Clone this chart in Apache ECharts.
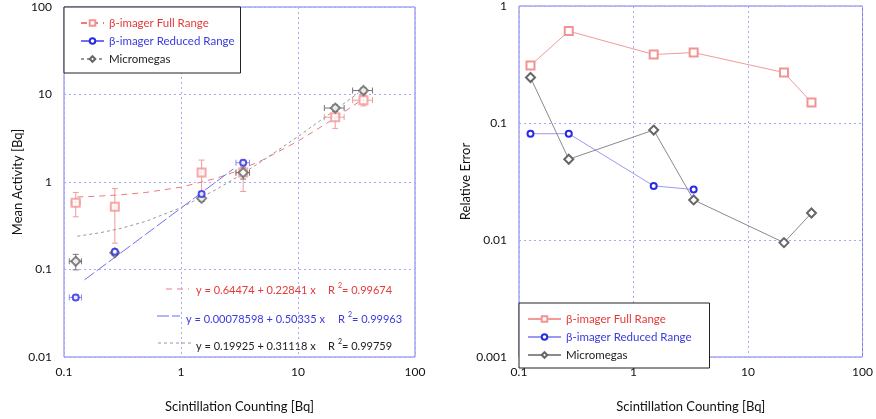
<!DOCTYPE html>
<html>
<head>
<meta charset="utf-8">
<script src="https://cdn.jsdelivr.net/npm/echarts@6/dist/echarts.min.js"></script>
<style>
  html, body { margin: 0; padding: 0; background: #fff; }
  #chart { width: 876px; height: 419px; }
</style>
</head>
<body>
<div id="chart"></div>
<script>
// ---- left plot: mean activity vs scintillation counting ----
const fullX = [0.126, 0.272, 1.5, 3.4, 20.8, 36.3];
const fullY = [0.58, 0.52, 1.28, 1.28, 5.5, 8.6];
const fullXErr = [0.011, 0.01, 0.05, 0.45, 4, 7];
const fullYErr = [0.18, 0.32, 0.5, 0.5, 1.4, 1.2];

const redX = [0.126, 0.272, 1.5, 3.4];
const redY = [0.048, 0.16, 0.73, 1.66];
const redXErr = [0.015, 0.01, 0.05, 0.45];
const redYErr = [0.003, 0.01, 0.04, 0.08];

const microX = [0.126, 0.272, 1.5, 3.4, 20.8, 36.3];
const microY = [0.124, 0.155, 0.65, 1.28, 7.0, 11.1];
const microXErr = [0.015, 0.01, 0.05, 0.45, 4, 7];
const microYErr = [0.025, 0.01, 0.05, 0.2, 0.6, 0.8];

// fitted curves
const fitFullX = [0.13, 0.2, 0.3, 0.5, 1, 2, 3, 5, 10, 20, 35];
const fitFullY = [0.674, 0.690, 0.713, 0.759, 0.873, 1.102, 1.330, 1.787, 2.929, 5.213, 8.639];
const fitRedX = [0.15, 0.2, 0.3, 0.5, 1, 2, 2.8];
const fitRedY = [0.0763, 0.1015, 0.1518, 0.2525, 0.5041, 1.0075, 1.4102];
const fitMicroX = [0.13, 0.2, 0.3, 0.5, 1, 2, 3, 5, 10, 20, 33];
const fitMicroY = [0.240, 0.262, 0.293, 0.355, 0.510, 0.822, 1.133, 1.755, 3.311, 6.423, 10.468];

// ---- right plot: relative error ----
const relX = [0.126, 0.272, 1.5, 3.35, 20.6, 35.8];
const relFull = [0.31, 0.61, 0.385, 0.40, 0.27, 0.15];
const relReduced = [0.081, 0.081, 0.029, 0.027];
const relMicro = [0.245, 0.049, 0.087, 0.022, 0.0095, 0.017];

const names = ['β-imager Full Range', 'β-imager Reduced Range', 'Micromegas'];
const textCol = ['#e43a3a', '#3a3ae0', '#222'];
const FONT = 'Lato';

const C_RED = '#f29494', C_BLUE = '#2a2ae6', C_BLACK = '#666';

function pairs(xs, ys) { return ys.map((v, i) => [xs[i], v]); }
function errData(xs, ys, xe, ye) {
  return ys.map((v, i) => [xs[i], v, xs[i] - xe[i], xs[i] + xe[i], v - ye[i], v + ye[i]]);
}
function errRender(params, api) {
  const x = api.value(0), y = api.value(1);
  const a = api.coord([api.value(2), y]), b = api.coord([api.value(3), y]);
  const c = api.coord([x, api.value(4)]), d = api.coord([x, api.value(5)]);
  const cap = 3;
  const st = { stroke: api.visual('color'), lineWidth: 1 };
  const ln = (x1, y1, x2, y2) => ({ type: 'line', shape: { x1, y1, x2, y2 }, style: st });
  return {
    type: 'group',
    children: [
      ln(a[0], a[1], b[0], b[1]),
      ln(a[0], a[1] - cap, a[0], a[1] + cap),
      ln(b[0], b[1] - cap, b[0], b[1] + cap),
      ln(c[0], c[1], d[0], d[1]),
      ln(c[0] - cap, c[1], c[0] + cap, c[1]),
      ln(d[0] - cap, d[1], d[0] + cap, d[1])
    ]
  };
}

const gridLine = { show: true, lineStyle: { color: '#a8a8f4', type: [2, 3], width: 1 } };
function xAxisCfg(idx) {
  return {
    type: 'log', logBase: 10, min: 0.1, max: 100, gridIndex: idx,
    name: 'Scintillation Counting [Bq]', nameLocation: 'middle', nameGap: 43,
    nameTextStyle: { fontFamily: FONT, fontSize: 13, color: '#111' },
    axisLine: { show: false }, axisTick: { show: false },
    axisLabel: { fontFamily: FONT, fontSize: 12, color: '#111', margin: 9 },
    splitLine: gridLine
  };
}
function yAxisCfg(idx, min, max, name) {
  return {
    type: 'log', logBase: 10, min: min, max: max, gridIndex: idx,
    name: name, nameLocation: 'middle', nameGap: 40,
    nameTextStyle: { fontFamily: FONT, fontSize: 13, color: '#111' },
    axisLine: { show: false }, axisTick: { show: false },
    axisLabel: { fontFamily: FONT, fontSize: 12, color: '#111', margin: 12 },
    splitLine: gridLine
  };
}

const chart = echarts.init(document.getElementById('chart'));

function eqText(x, y, col, eq, rx, r2) {
  return [
    { type: 'text', x: x, y: y, style: { text: eq, fill: col, font: '11px ' + FONT, verticalAlign: 'middle' } },
    { type: 'text', x: rx, y: y, style: { text: 'R', fill: col, font: '11px ' + FONT, verticalAlign: 'middle' } },
    { type: 'text', x: rx + 10, y: y - 4, style: { text: '2', fill: col, font: '7px ' + FONT, verticalAlign: 'middle' } },
    { type: 'text', x: rx + 14, y: y, style: { text: '= ' + r2, fill: col, font: '11px ' + FONT, verticalAlign: 'middle' } }
  ];
}
function dash(x1, x2, y, col, type) {
  return { type: 'line', shape: { x1: x1, y1: y, x2: x2, y2: y }, style: { stroke: col, lineWidth: 1, lineDash: type } };
}

chart.setOption({
  animation: false,
  backgroundColor: '#fff',
  grid: [
    { left: 64, top: 7, width: 351, height: 350, show: true, borderColor: '#7a7aea', borderWidth: 1, backgroundColor: 'transparent' },
    { left: 519, top: 5, width: 353, height: 352, show: true, borderColor: '#7a7aea', borderWidth: 1, backgroundColor: 'transparent' }
  ],
  xAxis: [xAxisCfg(0), xAxisCfg(1)],
  yAxis: [yAxisCfg(0, 0.01, 100, 'Mean Activity [Bq]'), yAxisCfg(1, 0.001, 1, 'Relative Error')],
  legend: [
    {
      orient: 'vertical', left: 64, top: 7, itemWidth: 23, itemHeight: 7, itemGap: 6,
      padding: [10, 6, 8, 16], borderColor: '#222', borderWidth: 1, backgroundColor: '#fff',
      selectedMode: false, formatter: n => n.split('#')[0],
      data: names.map((n, i) => ({ name: n + '#L', textStyle: { color: textCol[i], fontFamily: FONT, fontSize: 11.5 } }))
    },
    {
      orient: 'vertical', left: 519, top: 303, itemWidth: 33, itemHeight: 7, itemGap: 6,
      padding: [10, 18, 7, 8], borderColor: '#222', borderWidth: 1, backgroundColor: '#fff',
      selectedMode: false,
      data: names.map((n, i) => ({ name: n, textStyle: { color: textCol[i], fontFamily: FONT, fontSize: 11.5 } }))
    }
  ],
  graphic: [
    dash(166, 189, 289, '#f07a7a', [6, 5]),
    dash(157, 180, 316, '#6a6af0', [12, 3]),
    dash(158, 193, 343, '#999', [3, 3]),
    ...eqText(196, 290, '#e43a3a', 'y = 0.64474 + 0.22841 x', 328, '0.99674'),
    ...eqText(186, 319, '#3a3ae0', 'y = 0.00078598 + 0.50335 x', 338, '0.99963'),
    ...eqText(196, 346, '#222', 'y = 0.19925 + 0.31118 x', 328, '0.99759')
  ],
  series: [
    // fit lines (left), also used for the left legend
    { name: names[0] + '#L', type: 'line', xAxisIndex: 0, yAxisIndex: 0, data: pairs(fitFullX, fitFullY),
      showSymbol: false, symbol: 'emptyRect', symbolSize: 6, itemStyle: { color: C_RED, borderWidth: 1 },
      lineStyle: { color: '#f07a7a', width: 1, type: [6, 5] } },
    { name: names[1] + '#L', type: 'line', xAxisIndex: 0, yAxisIndex: 0, data: pairs(fitRedX, fitRedY),
      showSymbol: false, symbol: 'emptyCircle', symbolSize: 5, itemStyle: { color: C_BLUE, borderWidth: 1 },
      lineStyle: { color: '#7070f0', width: 1, type: [12, 3] } },
    { name: names[2] + '#L', type: 'line', xAxisIndex: 0, yAxisIndex: 0, data: pairs(fitMicroX, fitMicroY),
      showSymbol: false, symbol: 'emptyDiamond', symbolSize: 8, itemStyle: { color: C_BLACK, borderWidth: 1 },
      lineStyle: { color: '#999', width: 1, type: [3, 3] } },
    // error bars
    { type: 'custom', xAxisIndex: 0, yAxisIndex: 0, renderItem: errRender, itemStyle: { color: '#f29a9a' },
      encode: { x: 0, y: 1 }, data: errData(fullX, fullY, fullXErr, fullYErr), z: 3 },
    { type: 'custom', xAxisIndex: 0, yAxisIndex: 0, renderItem: errRender, itemStyle: { color: '#8a8af2' },
      encode: { x: 0, y: 1 }, data: errData(redX, redY, redXErr, redYErr), z: 3 },
    { type: 'custom', xAxisIndex: 0, yAxisIndex: 0, renderItem: errRender, itemStyle: { color: '#777' },
      encode: { x: 0, y: 1 }, data: errData(microX, microY, microXErr, microYErr), z: 3 },
    // points
    { name: 'full-pts', type: 'scatter', xAxisIndex: 0, yAxisIndex: 0, data: pairs(fullX, fullY),
      symbol: 'emptyRect', symbolSize: 8, itemStyle: { color: C_RED, borderWidth: 1 }, z: 4 },
    { name: 'red-pts', type: 'scatter', xAxisIndex: 0, yAxisIndex: 0, data: pairs(redX, redY),
      symbol: 'emptyCircle', symbolSize: 6, itemStyle: { color: C_BLUE, borderWidth: 1 }, z: 5 },
    { name: 'micro-pts', type: 'scatter', xAxisIndex: 0, yAxisIndex: 0, data: pairs(microX, microY),
      symbol: 'emptyDiamond', symbolSize: 9, itemStyle: { color: C_BLACK, borderWidth: 1 }, z: 4 },
    // right plot
    { name: names[0], type: 'line', xAxisIndex: 1, yAxisIndex: 1, data: pairs(relX, relFull),
      symbol: 'emptyRect', symbolSize: 8, itemStyle: { color: C_RED, borderWidth: 1 }, lineStyle: { color: '#f29a9a', width: 1 } },
    { name: names[1], type: 'line', xAxisIndex: 1, yAxisIndex: 1, data: pairs(relX, relReduced),
      symbol: 'emptyCircle', symbolSize: 6, itemStyle: { color: C_BLUE, borderWidth: 1 }, lineStyle: { color: '#9a9af4', width: 1 } },
    { name: names[2], type: 'line', xAxisIndex: 1, yAxisIndex: 1, data: pairs(relX, relMicro),
      symbol: 'emptyDiamond', symbolSize: 9, itemStyle: { color: C_BLACK, borderWidth: 1 }, lineStyle: { color: '#8a8a8a', width: 1 } }
  ]
});
</script>
</body>
</html>
